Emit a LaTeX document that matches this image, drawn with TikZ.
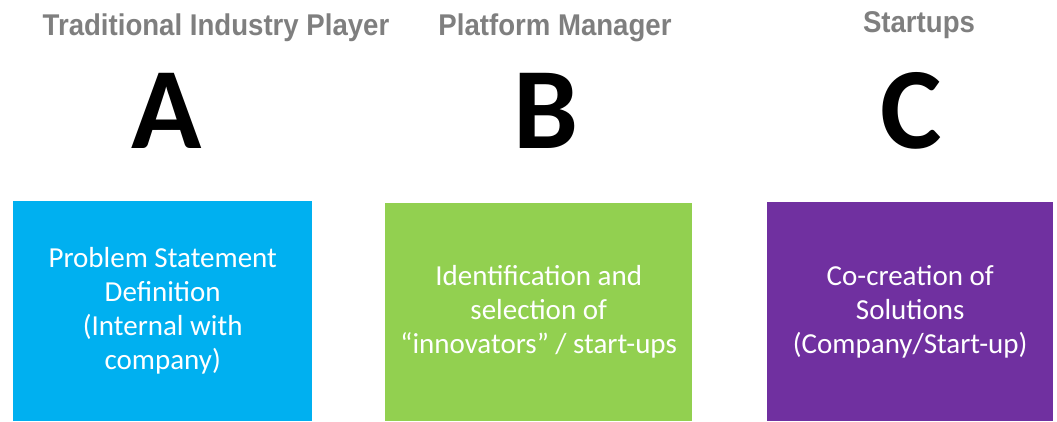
\documentclass[tikz,border=0pt]{standalone}
\usepackage{fontspec}
\setmainfont{Carlito}
\newfontfamily\headfont[FakeStretch=0.92]{Liberation Sans}
\definecolor{headgray}{HTML}{7F7F7F}
\definecolor{stepblue}{HTML}{00B0F0}
\definecolor{stepgreen}{HTML}{92D050}
\definecolor{steppurple}{HTML}{7030A0}
\begin{document}
\begin{tikzpicture}[x=1pt, y=-1pt,
    head/.style={anchor=base, text=headgray, font=\headfont\bfseries\fontsize{30}{32}\selectfont},
    letter/.style={anchor=base, font=\bfseries\fontsize{116}{116}\selectfont},
    stepbox/.style={anchor=north west, inner sep=0pt, align=center, text=white,
        font=\fontsize{29}{34}\selectfont}]
    \useasboundingbox (0,0) rectangle (1057,421);

    % Traditional Industry Player
    \node (headA) [head] at (216,35) {Traditional Industry Player};
    \node (letA) [letter] at (167,148) {A};
    \node (boxA) [stepbox, fill=stepblue, minimum width=299pt, minimum height=220pt] at (13,201)
        {Problem Statement\\Definition\\(Internal with\\company)};

    % Platform Manager
    \node (headB) [head] at (555,35) {Platform Manager};
    \node (letB) [letter] at (546,148) {B};
    \node (boxB) [stepbox, fill=stepgreen, minimum width=307pt, minimum height=218pt] at (385,203)
        {Identification and\\selection of\\“innovators” / start-ups};

    % Startups
    \node (headC) [head] at (919,32) {Startups};
    \node (letC) [letter] at (911,148) {C};
    \node (boxC) [stepbox, fill=steppurple, minimum width=286pt, minimum height=219pt] at (767,202)
        {Co-creation of\\Solutions\\(Company/Start-up)};
\end{tikzpicture}
\end{document}
